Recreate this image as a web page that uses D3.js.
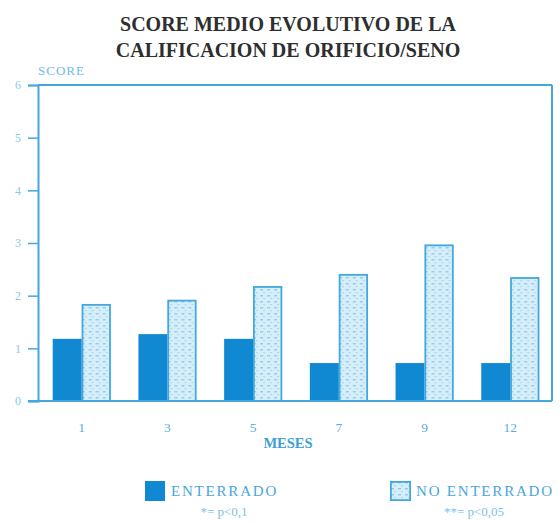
<!DOCTYPE html>
<html>
<head>
<meta charset="utf-8">
<script src="https://cdn.jsdelivr.net/npm/d3@7"></script>
<style>
  html, body { margin: 0; padding: 0; background: #ffffff; }
  svg { display: block; }
</style>
</head>
<body>
<script>
// ---- data ----
const meses = ["1", "3", "5", "7", "9", "12"];
const series = ["ENTERRADO", "NO ENTERRADO"];
const enterrado = [1.18, 1.27, 1.18, 0.72, 0.72, 0.72];
const noEnterrado = [1.84, 1.92, 2.18, 2.41, 2.97, 2.35];
const yTicks = [0, 1, 2, 3, 4, 5, 6];
const titleLines = ["SCORE MEDIO EVOLUTIVO DE LA", "CALIFICACION DE ORIFICIO/SENO"];
const legendNotes = ["*= p<0,1", "**= p<0,05"];

(function () {
const W = 560, H = 524;
const pLeft = 38, pRight = 552, pTop = 85, pBottom = 401;
const axisColor = "#45a8dc";
const darkBlue = "#1089d2";

const svg = d3.select("body").append("svg").attr("width", W).attr("height", H);

// pattern for light bars
const defs = svg.append("defs");
const pat = defs.append("pattern").attr("id", "dots")
  .attr("patternUnits", "userSpaceOnUse").attr("width", 7).attr("height", 6);
pat.append("rect").attr("width", 7).attr("height", 6).attr("fill", "#d6eefa");
pat.append("rect").attr("x", 1).attr("y", 1).attr("width", 3).attr("height", 1.5).attr("fill", "#96cdee");
pat.append("rect").attr("x", 4).attr("y", 4).attr("width", 2).attr("height", 1.2).attr("fill", "#acd8f1");

const x = d3.scaleBand().domain(meses).range([39, 553]).paddingInner(0.323).paddingOuter(0.16);
const xs = d3.scaleBand().domain(series).range([0, x.bandwidth()]);
const y = d3.scaleLinear().domain([0, 6]).range([pBottom, pTop]);

// title
svg.append("g").selectAll("text").data(titleLines).join("text")
  .attr("x", 288).attr("y", (d, i) => 31 + i * 26)
  .attr("text-anchor", "middle")
  .attr("font-family", "Liberation Serif, Times New Roman, serif")
  .attr("font-weight", "bold").attr("font-size", 20)
  .attr("fill", "#2e2e2e")
  .text(d => d);

// SCORE label
svg.append("text").attr("x", 38).attr("y", 75)
  .attr("font-family", "Liberation Serif, serif").attr("font-size", 13)
  .attr("letter-spacing", 1)
  .attr("fill", "#6dbbe6").text("SCORE");

// bars
const data = meses.map((m, i) => ({ mes: m, vals: [enterrado[i], noEnterrado[i]] }));
const groups = svg.append("g").selectAll("g").data(data).join("g")
  .attr("transform", d => `translate(${x(d.mes)},0)`);
groups.selectAll("rect").data(d => d.vals.map((v, j) => ({ s: series[j], v })))
  .join("rect")
  .attr("x", d => xs(d.s) + (d.s === series[1] ? 0.75 : 0))
  .attr("width", d => xs.bandwidth() - (d.s === series[1] ? 1.5 : 0))
  .attr("y", d => y(d.v) + (d.s === series[1] ? 0.75 : 0))
  .attr("height", d => pBottom - y(d.v) - (d.s === series[1] ? 0.75 : 0))
  .attr("fill", d => d.s === series[0] ? darkBlue : "url(#dots)")
  .attr("stroke", d => d.s === series[0] ? "none" : axisColor)
  .attr("stroke-width", 1.8);

// frame: top and right
svg.append("line").attr("x1", pLeft).attr("x2", pRight).attr("y1", pTop).attr("y2", pTop)
  .attr("stroke", axisColor).attr("stroke-width", 2);
svg.append("line").attr("x1", pRight).attr("x2", pRight).attr("y1", pTop).attr("y2", pBottom)
  .attr("stroke", axisColor).attr("stroke-width", 2);

// y axis
const yAxis = svg.append("g").attr("transform", `translate(${pLeft},0)`)
  .call(d3.axisLeft(y).tickValues(yTicks).tickSize(10).tickPadding(7).tickFormat(d3.format("d")));
yAxis.select(".domain").attr("stroke", axisColor).attr("stroke-width", 2);
yAxis.selectAll(".tick line").attr("stroke", axisColor).attr("stroke-width", 1.5);
yAxis.selectAll(".tick text").attr("fill", "#8cc8ea")
  .attr("font-family", "Liberation Serif, serif").attr("font-size", 12);

// x axis
const xAxis = svg.append("g").attr("transform", `translate(0,${pBottom})`)
  .call(d3.axisBottom(x).tickSize(0).tickPadding(21));
xAxis.select(".domain").remove();
svg.append("line").attr("x1", 28).attr("x2", pRight).attr("y1", pBottom).attr("y2", pBottom)
  .attr("stroke", axisColor).attr("stroke-width", 2);
xAxis.selectAll(".tick text").attr("fill", "#5aaede")
  .attr("font-family", "Liberation Serif, serif").attr("font-size", 13.5);

// x label
svg.append("text").attr("x", 288).attr("y", 448).attr("text-anchor", "middle")
  .attr("font-family", "Liberation Serif, serif").attr("font-weight", "bold")
  .attr("font-size", 14.5).attr("fill", "#3d9fd6").text("MESES");

// legend
const legX = [145, 390];
const leg = svg.append("g").selectAll("g").data(series).join("g")
  .attr("transform", (d, i) => `translate(${legX[i]},481)`);
leg.append("rect").attr("x", d => d === series[1] ? 0.9 : 0).attr("y", d => d === series[1] ? 0.9 : 0)
  .attr("width", d => d === series[1] ? 19.2 : 20).attr("height", d => d === series[1] ? 18.2 : 20)
  .attr("fill", d => d === series[0] ? darkBlue : "url(#dots)")
  .attr("stroke", d => d === series[0] ? "none" : axisColor).attr("stroke-width", 1.8);
leg.append("text").attr("x", 26).attr("y", 15)
  .attr("font-family", "Liberation Serif, serif").attr("font-size", 15)
  .attr("letter-spacing", 1.8)
  .attr("fill", "#4aa6da").text(d => d);
leg.append("text").attr("x", (d, i) => i === 0 ? 79 : 84).attr("y", 35)
  .attr("text-anchor", "middle")
  .attr("font-family", "Liberation Serif, serif").attr("font-size", 13)
  .attr("fill", "#7ec0e6").text((d, i) => legendNotes[i]);
})();
</script>
</body>
</html>
